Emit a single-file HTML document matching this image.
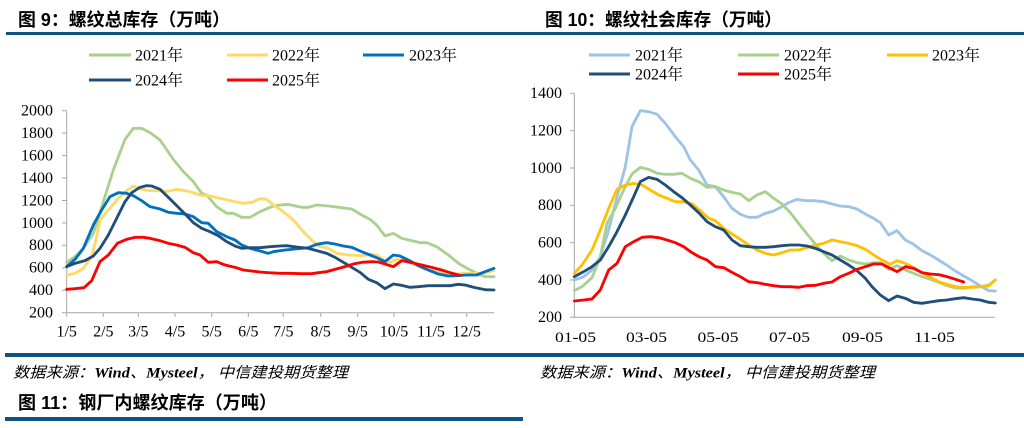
<!DOCTYPE html>
<html><head><meta charset="utf-8"><style>
html,body{margin:0;padding:0;background:#fff;}
svg{display:block;}
.t{font-family:"Liberation Sans","Noto Sans CJK SC",sans-serif;font-weight:bold;font-size:18px;fill:#000;}
.n{font-family:"Liberation Serif","Noto Serif CJK SC","Noto Sans CJK SC",serif;font-size:16px;fill:#000;}
.m{font-family:"Liberation Serif","Noto Sans CJK SC",serif;font-size:15px;fill:#000;}
.s{font-family:"Liberation Serif","Noto Sans CJK SC",serif;font-size:15px;font-style:italic;fill:#000;}
.ln{fill:none;stroke-width:8.5;stroke-linejoin:round;stroke-linecap:round;}
</style></head><body>
<svg width="1024" height="428" viewBox="0 0 1024 428" xmlns="http://www.w3.org/2000/svg">
<!-- titles -->
<text class="t" x="18" y="20" dominant-baseline="central" textLength="212" lengthAdjust="spacingAndGlyphs">图 9：螺纹总库存（万吨）</text>
<text class="t" x="545" y="20" dominant-baseline="central" textLength="237" lengthAdjust="spacingAndGlyphs">图 10：螺纹社会库存（万吨）</text>
<rect x="6" y="32" width="1018" height="3" fill="#0F5283"/>

<!-- LEFT LEGEND -->
<g stroke-width="3">
<line x1="89" y1="55" x2="131" y2="55" stroke="#A9D18E"/>
<line x1="227" y1="55" x2="268" y2="55" stroke="#FFD966"/>
<line x1="363" y1="55" x2="404" y2="55" stroke="#0070C0"/>
<line x1="89" y1="80" x2="131" y2="80" stroke="#1F4E79"/>
<line x1="227" y1="80" x2="268" y2="80" stroke="#FF0000"/>
</g>
<text class="n" x="135" y="56" dominant-baseline="central">2021年</text>
<text class="n" x="272" y="56" dominant-baseline="central">2022年</text>
<text class="n" x="409" y="56" dominant-baseline="central">2023年</text>
<text class="n" x="135" y="81" dominant-baseline="central">2024年</text>
<text class="n" x="272" y="81" dominant-baseline="central">2025年</text>

<!-- LEFT AXES -->
<g stroke="#A6A6A6" stroke-width="1">
<line x1="66.7" y1="110.7" x2="66.7" y2="312.7"/>
<line x1="66.7" y1="312.7" x2="494" y2="312.7"/>
<line x1="62" y1="110.7" x2="66.7" y2="110.7"/>
<line x1="62" y1="133.1" x2="66.7" y2="133.1"/>
<line x1="62" y1="155.6" x2="66.7" y2="155.6"/>
<line x1="62" y1="178" x2="66.7" y2="178"/>
<line x1="62" y1="200.5" x2="66.7" y2="200.5"/>
<line x1="62" y1="222.9" x2="66.7" y2="222.9"/>
<line x1="62" y1="245.3" x2="66.7" y2="245.3"/>
<line x1="62" y1="267.8" x2="66.7" y2="267.8"/>
<line x1="62" y1="290.2" x2="66.7" y2="290.2"/>
<line x1="62" y1="312.7" x2="66.7" y2="312.7"/>
<line x1="66.7" y1="312.7" x2="66.7" y2="317"/>
<line x1="103.3" y1="312.7" x2="103.3" y2="317"/>
<line x1="138.3" y1="312.7" x2="138.3" y2="317"/>
<line x1="175" y1="312.7" x2="175" y2="317"/>
<line x1="211.7" y1="312.7" x2="211.7" y2="317"/>
<line x1="248.3" y1="312.7" x2="248.3" y2="317"/>
<line x1="283.3" y1="312.7" x2="283.3" y2="317"/>
<line x1="320.7" y1="312.7" x2="320.7" y2="317"/>
<line x1="357.7" y1="312.7" x2="357.7" y2="317"/>
<line x1="394" y1="312.7" x2="394" y2="317"/>
<line x1="431" y1="312.7" x2="431" y2="317"/>
<line x1="466.7" y1="312.7" x2="466.7" y2="317"/>
</g>
<g class="n" text-anchor="end">
<text x="53" y="111" dominant-baseline="central">2000</text>
<text x="53" y="133.5" dominant-baseline="central">1800</text>
<text x="53" y="156" dominant-baseline="central">1600</text>
<text x="53" y="178.4" dominant-baseline="central">1400</text>
<text x="53" y="200.9" dominant-baseline="central">1200</text>
<text x="53" y="223.3" dominant-baseline="central">1000</text>
<text x="53" y="245.7" dominant-baseline="central">800</text>
<text x="53" y="268.2" dominant-baseline="central">600</text>
<text x="53" y="290.6" dominant-baseline="central">400</text>
<text x="53" y="313" dominant-baseline="central">200</text>
</g>
<g class="n" text-anchor="middle">
<text x="66.7" y="332" dominant-baseline="central">1/5</text>
<text x="103.3" y="332" dominant-baseline="central">2/5</text>
<text x="138.3" y="332" dominant-baseline="central">3/5</text>
<text x="175" y="332" dominant-baseline="central">4/5</text>
<text x="211.7" y="332" dominant-baseline="central">5/5</text>
<text x="248.3" y="332" dominant-baseline="central">6/5</text>
<text x="283.3" y="332" dominant-baseline="central">7/5</text>
<text x="320.7" y="332" dominant-baseline="central">8/5</text>
<text x="357.7" y="332" dominant-baseline="central">9/5</text>
<text x="394" y="332" dominant-baseline="central">10/5</text>
<text x="431" y="332" dominant-baseline="central">11/5</text>
<text x="466.7" y="332" dominant-baseline="central">12/5</text>
</g>

<!-- LEFT SERIES (zoom coords) -->
<g transform="translate(0,90) scale(0.333333)">
<polyline class="ln" stroke="#A9D18E" points="200,517 225,500 250,475 280,430 310,335 340,240 375,148 400,115 425,115 450,128 480,150 520,208 550,245 580,275 605,310 620,315 650,350 680,370 700,370 725,382 750,382 780,365 815,350 840,345 865,343 905,352 925,352 950,345 985,348 1025,353 1055,357 1085,375 1110,388 1130,405 1155,438 1180,430 1205,445 1235,452 1260,458 1280,458 1310,470 1345,495 1380,523 1405,537 1435,552 1455,560 1482,560"/>
<polyline class="ln" stroke="#FFD966" points="200,555 225,550 250,535 275,500 290,440 300,390 325,360 355,325 380,302 400,288 425,298 450,302 480,302 500,305 530,298 555,302 580,308 600,315 625,317 650,323 675,328 705,335 730,340 755,337 780,326 800,328 820,345 840,358 850,365 880,390 910,425 935,450 955,468 985,475 1010,490 1045,495 1085,497 1115,493 1130,495 1155,512 1170,517 1190,508 1205,510 1245,523 1275,538 1305,545 1335,552 1365,552 1395,550 1425,550 1450,550 1482,542"/>
<polyline class="ln" stroke="#0070C0" points="200,530 225,508 250,475 280,405 305,360 330,320 355,308 380,310 400,317 425,332 450,350 480,357 505,367 530,370 555,372 580,380 605,398 625,400 650,425 680,440 705,450 725,465 750,475 780,483 805,490 820,485 855,480 885,477 925,473 950,463 980,458 1005,462 1030,468 1055,472 1085,485 1110,495 1130,503 1155,515 1180,495 1200,498 1225,510 1255,527 1285,540 1315,552 1345,558 1370,557 1400,555 1430,555 1455,545 1482,535"/>
<polyline class="ln" stroke="#1F4E79" points="200,530 225,520 255,512 280,498 300,475 325,435 350,385 375,335 395,308 420,292 440,287 455,288 480,298 505,322 530,347 555,372 580,398 605,415 630,425 655,437 680,455 705,468 725,475 750,473 780,473 810,470 840,468 860,467 895,472 925,475 950,482 980,490 1005,502 1030,517 1055,532 1080,547 1105,568 1130,578 1155,596 1180,582 1205,586 1230,592 1255,590 1285,587 1315,587 1350,587 1375,583 1395,585 1425,593 1455,599 1482,600"/>
<polyline class="ln" stroke="#FF0000" points="200,598 225,596 252,593 275,572 300,515 325,495 352,460 380,448 405,442 430,442 450,445 480,452 505,460 530,465 555,472 580,488 600,495 625,517 650,515 675,525 705,532 730,540 755,543 780,546 805,548 840,550 865,550 905,551 935,551 955,548 980,545 1005,538 1035,530 1060,522 1085,517 1115,515 1135,516 1155,522 1180,530 1205,512 1235,518 1265,525 1295,532 1325,540 1350,548 1380,556"/>
</g>

<!-- RIGHT LEGEND -->
<g stroke-width="3">
<line x1="589" y1="55" x2="630" y2="55" stroke="#9DC3E6"/>
<line x1="738" y1="55" x2="779" y2="55" stroke="#A9D18E"/>
<line x1="887" y1="55" x2="928" y2="55" stroke="#FFC000"/>
<line x1="589" y1="74" x2="630" y2="74" stroke="#1F4E79"/>
<line x1="738" y1="74" x2="779" y2="74" stroke="#FF0000"/>
</g>
<text class="n" x="635" y="56" dominant-baseline="central">2021年</text>
<text class="n" x="784" y="56" dominant-baseline="central">2022年</text>
<text class="n" x="932" y="56" dominant-baseline="central">2023年</text>
<text class="n" x="635" y="75" dominant-baseline="central">2024年</text>
<text class="n" x="784" y="75" dominant-baseline="central">2025年</text>

<!-- RIGHT AXES -->
<g stroke="#A6A6A6" stroke-width="1">
<line x1="574.3" y1="93.3" x2="574.3" y2="317.3"/>
<line x1="570" y1="317.3" x2="995" y2="317.3"/>
<line x1="570" y1="93.3" x2="574.3" y2="93.3"/>
<line x1="570" y1="130.7" x2="574.3" y2="130.7"/>
<line x1="570" y1="168" x2="574.3" y2="168"/>
<line x1="570" y1="205.3" x2="574.3" y2="205.3"/>
<line x1="570" y1="242.7" x2="574.3" y2="242.7"/>
<line x1="570" y1="280" x2="574.3" y2="280"/>
</g>
<g class="n" text-anchor="end">
<text x="562" y="93.6" dominant-baseline="central">1400</text>
<text x="562" y="131" dominant-baseline="central">1200</text>
<text x="562" y="168.3" dominant-baseline="central">1000</text>
<text x="562" y="205.6" dominant-baseline="central">800</text>
<text x="562" y="243" dominant-baseline="central">600</text>
<text x="562" y="280.3" dominant-baseline="central">400</text>
<text x="562" y="317.6" dominant-baseline="central">200</text>
</g>
<g class="m">
<text x="555" y="338" dominant-baseline="central" textLength="41" lengthAdjust="spacingAndGlyphs">01-05</text>
<text x="626" y="338" dominant-baseline="central" textLength="41" lengthAdjust="spacingAndGlyphs">03-05</text>
<text x="697.5" y="338" dominant-baseline="central" textLength="41" lengthAdjust="spacingAndGlyphs">05-05</text>
<text x="769" y="338" dominant-baseline="central" textLength="41" lengthAdjust="spacingAndGlyphs">07-05</text>
<text x="842" y="338" dominant-baseline="central" textLength="41" lengthAdjust="spacingAndGlyphs">09-05</text>
<text x="914" y="338" dominant-baseline="central" textLength="41" lengthAdjust="spacingAndGlyphs">11-05</text>
</g>

<!-- RIGHT SERIES (zoom coords) -->
<g transform="translate(512,80) scale(0.333333)">
<polyline class="ln" stroke="#9DC3E6" points="187,600 215,590 240,570 265,530 290,450 310,370 340,260 360,140 385,92 410,95 435,103 460,130 490,170 515,200 535,240 560,270 585,315 610,320 635,350 660,385 685,403 710,412 735,412 760,400 785,393 810,380 830,368 855,358 880,362 905,362 935,365 960,372 985,378 1010,380 1035,387 1060,402 1085,415 1105,428 1130,465 1155,452 1180,480 1205,493 1230,512 1255,525 1280,540 1305,556 1330,573 1355,588 1380,602 1405,618 1430,632 1450,633"/>
<polyline class="ln" stroke="#A9D18E" points="187,632 210,620 240,593 265,530 285,430 310,385 335,330 360,282 385,262 410,268 435,280 460,283 485,283 510,280 535,295 560,305 585,322 610,320 635,330 660,337 685,342 710,362 735,345 760,335 785,355 810,372 835,398 860,430 885,462 910,492 935,520 960,542 985,528 1010,540 1035,548 1060,552 1085,548 1105,548 1130,568 1155,557 1180,570 1205,580 1230,590 1255,598 1280,607 1305,617 1330,624 1355,625 1380,620 1405,620 1430,615 1450,600"/>
<polyline class="ln" stroke="#FFC000" points="187,580 210,555 240,510 265,450 290,385 315,328 340,315 365,310 390,315 415,330 440,345 465,355 490,365 515,365 540,372 565,392 590,415 610,422 635,445 660,462 685,478 710,495 735,510 760,520 785,525 810,518 835,510 860,510 885,503 910,495 935,490 960,480 985,485 1010,490 1035,497 1060,508 1085,525 1110,540 1135,553 1155,542 1180,550 1205,563 1230,578 1255,592 1280,605 1305,613 1330,620 1355,622 1380,622 1405,620 1430,618 1450,600"/>
<polyline class="ln" stroke="#1F4E79" points="187,590 215,575 240,560 265,540 290,500 315,455 340,405 365,350 385,305 410,292 435,298 460,315 485,335 510,353 535,375 560,398 585,425 610,440 635,450 660,480 685,497 710,500 735,502 760,502 785,500 810,497 835,495 860,495 885,498 910,505 935,515 960,525 985,540 1010,555 1035,572 1060,595 1080,620 1105,645 1130,662 1155,648 1180,655 1205,667 1230,670 1255,666 1280,662 1305,660 1330,656 1355,653 1380,657 1405,660 1430,667 1450,669"/>
<polyline class="ln" stroke="#FF0000" points="187,663 215,660 240,657 265,630 290,570 315,550 340,500 365,485 390,472 415,470 440,473 465,480 490,488 515,500 540,518 565,532 585,540 610,560 635,563 660,577 685,590 710,605 735,608 760,613 785,617 810,620 835,620 860,622 885,617 910,616 935,610 960,606 985,590 1010,580 1035,568 1060,560 1085,552 1110,552 1135,565 1155,575 1180,560 1205,565 1230,578 1255,582 1280,584 1305,590 1330,598 1355,606"/>
</g>

<!-- FOOTER -->
<rect x="5" y="353" width="1019" height="4" fill="#0F5283"/>
<text class="s" x="13" y="373.5" dominant-baseline="central" textLength="335" lengthAdjust="spacingAndGlyphs">数据来源：<tspan font-weight="bold">Wind</tspan>、<tspan font-weight="bold">Mysteel</tspan>， 中信建投期货整理</text>
<text class="s" x="540" y="373.5" dominant-baseline="central" textLength="335" lengthAdjust="spacingAndGlyphs">数据来源：<tspan font-weight="bold">Wind</tspan>、<tspan font-weight="bold">Mysteel</tspan>， 中信建投期货整理</text>
<text class="t" x="18" y="403" dominant-baseline="central" textLength="259" lengthAdjust="spacingAndGlyphs">图 11：钢厂内螺纹库存（万吨）</text>
<rect x="5" y="417" width="518" height="4" fill="#0F5283"/>
</svg>
</body></html>
